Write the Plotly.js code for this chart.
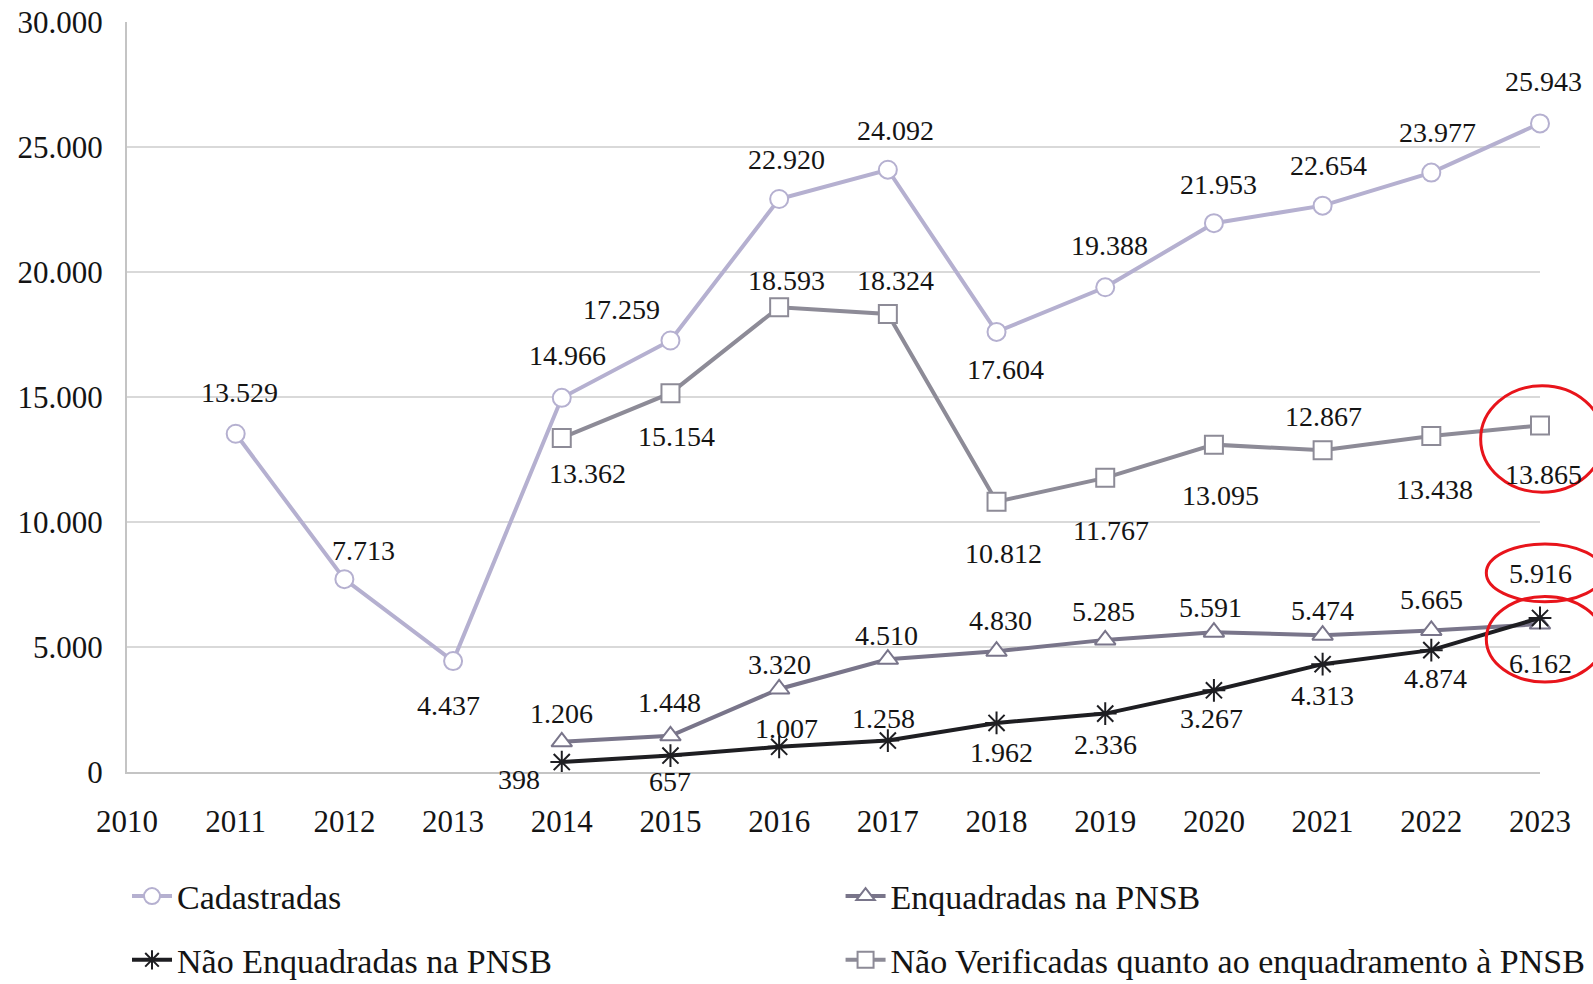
<!DOCTYPE html>
<html>
<head>
<meta charset="utf-8">
<script src="https://cdn.plot.ly/plotly-3.0.1.min.js"></script>
<style>html,body{margin:0;padding:0;background:#fff;}#chart{width:1593px;height:984px;}</style>
</head>
<body>
<div id="chart"></div>
<script>
// ---- data ----
const yearsAll = [2011, 2012, 2013, 2014, 2015, 2016, 2017, 2018, 2019, 2020, 2021, 2022, 2023];
const years14 = [2014, 2015, 2016, 2017, 2018, 2019, 2020, 2021, 2022, 2023];
const cadastradas = [13529, 7713, 4437, 14966, 17259, 22920, 24092, 17604, 19388, 21953, 22654, 23977, 25943];
const naoVerificadas = [13362, 15154, 18593, 18324, 10812, 11767, 13095, 12867, 13438, 13865];
const enquadradas = [1206, 1448, 3320, 4510, 4830, 5285, 5591, 5474, 5665, 5916];
const naoEnquadradas = [398, 657, 1007, 1258, 1962, 2336, 3267, 4313, 4874, 6162];
const seriesNames = ["Cadastradas", "Enquadradas na PNSB", "Não Enquadradas na PNSB", "Não Verificadas quanto ao enquadramento à PNSB"];
const xTicks = [2010, 2011, 2012, 2013, 2014, 2015, 2016, 2017, 2018, 2019, 2020, 2021, 2022, 2023];
const yTicks = [0, 5000, 10000, 15000, 20000, 25000, 30000];

// ---- label placement (pixel offsets of label centre from point: [dx, dy]) ----
const offCad = [[4,-41],[19,-29],[-5,44],[6,-42],[-49,-31],[7,-40],[8,-39],[9,38],[4,-42],[5,-39],[6,-40],[6,-40],[3,-42]];
const offVer = [[26,36],[6,43],[7,-27],[8,-33],[7,52],[6,53],[7,51],[1,-34],[3,53],[3,49]];
const offEnq = [[0,-28],[-1,-33],[0,-25],[-1,-24],[4,-31],[-2,-28],[-3,-25],[0,-25],[0,-31],[0,-51]];
const offNao = [[-43,17],[0,26],[7,-18],[-4,-22],[5,30],[0,31],[-2,28],[0,31],[4,28],[0,46]];

function fmt(v){ return String(v).replace(/\B(?=(\d{3})+(?!\d))/g, "."); }

const FONT = "Liberation Serif, Times New Roman, serif";
const cCad = "#b5b0d0", cEnq = "#79758a", cNao = "#1e1e22", cVer = "#8d8b97";

const traces = [
  {x: yearsAll, y: cadastradas, name: seriesNames[0], mode: "lines+markers", legend: "legend", cliponaxis: false,
   line: {color: cCad, width: 4},
   marker: {symbol: "circle", size: 18, color: "#ffffff", line: {color: cCad, width: 2}}},
  {x: years14, y: naoVerificadas, name: seriesNames[3], mode: "lines+markers", legend: "legend4", cliponaxis: false,
   line: {color: cVer, width: 4},
   marker: {symbol: "square", size: 18, color: "#ffffff", line: {color: cVer, width: 2}}},
  {x: years14, y: enquadradas, name: seriesNames[1], mode: "lines+markers", legend: "legend2", cliponaxis: false,
   line: {color: cEnq, width: 4},
   marker: {symbol: "triangle-up", size: 18, color: "#ffffff", line: {color: cEnq, width: 2}}},
  {x: years14, y: naoEnquadradas, name: seriesNames[2], mode: "lines+markers", legend: "legend3", cliponaxis: false,
   line: {color: cNao, width: 4},
   marker: {symbol: "asterisk-open", size: 19, color: cNao, line: {color: cNao, width: 2}}}
];

const annotations = [];
function addLabels(xs, ys, offs){
  xs.forEach((x, i) => {
    annotations.push({x: x, y: ys[i], xref: "x", yref: "y", text: fmt(ys[i]), showarrow: false,
      xanchor: "center", yanchor: "middle", xshift: offs[i][0], yshift: -offs[i][1],
      font: {family: FONT, size: 28, color: "#141414"}});
  });
}
addLabels(yearsAll, cadastradas, offCad);
addLabels(years14, naoVerificadas, offVer);
addLabels(years14, enquadradas, offEnq);
addLabels(years14, naoEnquadradas, offNao);

const legBase = {orientation: "h", xanchor: "left", yanchor: "middle", bgcolor: "rgba(0,0,0,0)",
  itemwidth: 40, font: {family: FONT, size: 34, color: "#141414"}};

const red = {color: "#e8141b", width: 3};
const layout = {
  width: 1593, height: 984,
  margin: {l: 127, r: 53, t: 22, b: 212, autoexpand: false},
  paper_bgcolor: "#ffffff", plot_bgcolor: "#ffffff",
  separators: ",.",
  showlegend: true,
  xaxis: {range: [2010, 2023], tickvals: xTicks, ticktext: xTicks.map(String), automargin: false,
    showgrid: false, zeroline: false, showline: true, linecolor: "#c4c4c4", linewidth: 2,
    ticks: "", ticklabelstandoff: 21, tickfont: {family: FONT, size: 31, color: "#141414"}},
  yaxis: {range: [0, 30000], tickvals: yTicks, ticktext: yTicks.map(fmt), automargin: false,
    showgrid: true, gridcolor: "#d9d9d9", gridwidth: 2, zeroline: false,
    showline: true, linecolor: "#c4c4c4", linewidth: 2,
    ticks: "", ticklabelstandoff: 16, tickfont: {family: FONT, size: 31, color: "#141414"}},
  legend: Object.assign({}, legBase, {x: 0.0, y: -0.166}),
  legend2: Object.assign({}, legBase, {x: 0.505, y: -0.166}),
  legend3: Object.assign({}, legBase, {x: 0.0, y: -0.251}),
  legend4: Object.assign({}, legBase, {x: 0.505, y: -0.251}),
  annotations: annotations,
  shapes: [
    {type: "circle", xref: "paper", yref: "paper", x0: 0.958, x1: 1.045, y0: 0.373, y1: 0.515, line: red, layer: "above"},
    {type: "circle", xref: "paper", yref: "paper", x0: 0.962, x1: 1.045, y0: 0.227, y1: 0.304, line: red, layer: "above"},
    {type: "circle", xref: "paper", yref: "paper", x0: 0.962, x1: 1.045, y0: 0.12, y1: 0.234, line: red, layer: "above"}
  ]
};

Plotly.newPlot("chart", traces, layout, {displayModeBar: false, responsive: false});
</script>
</body>
</html>
